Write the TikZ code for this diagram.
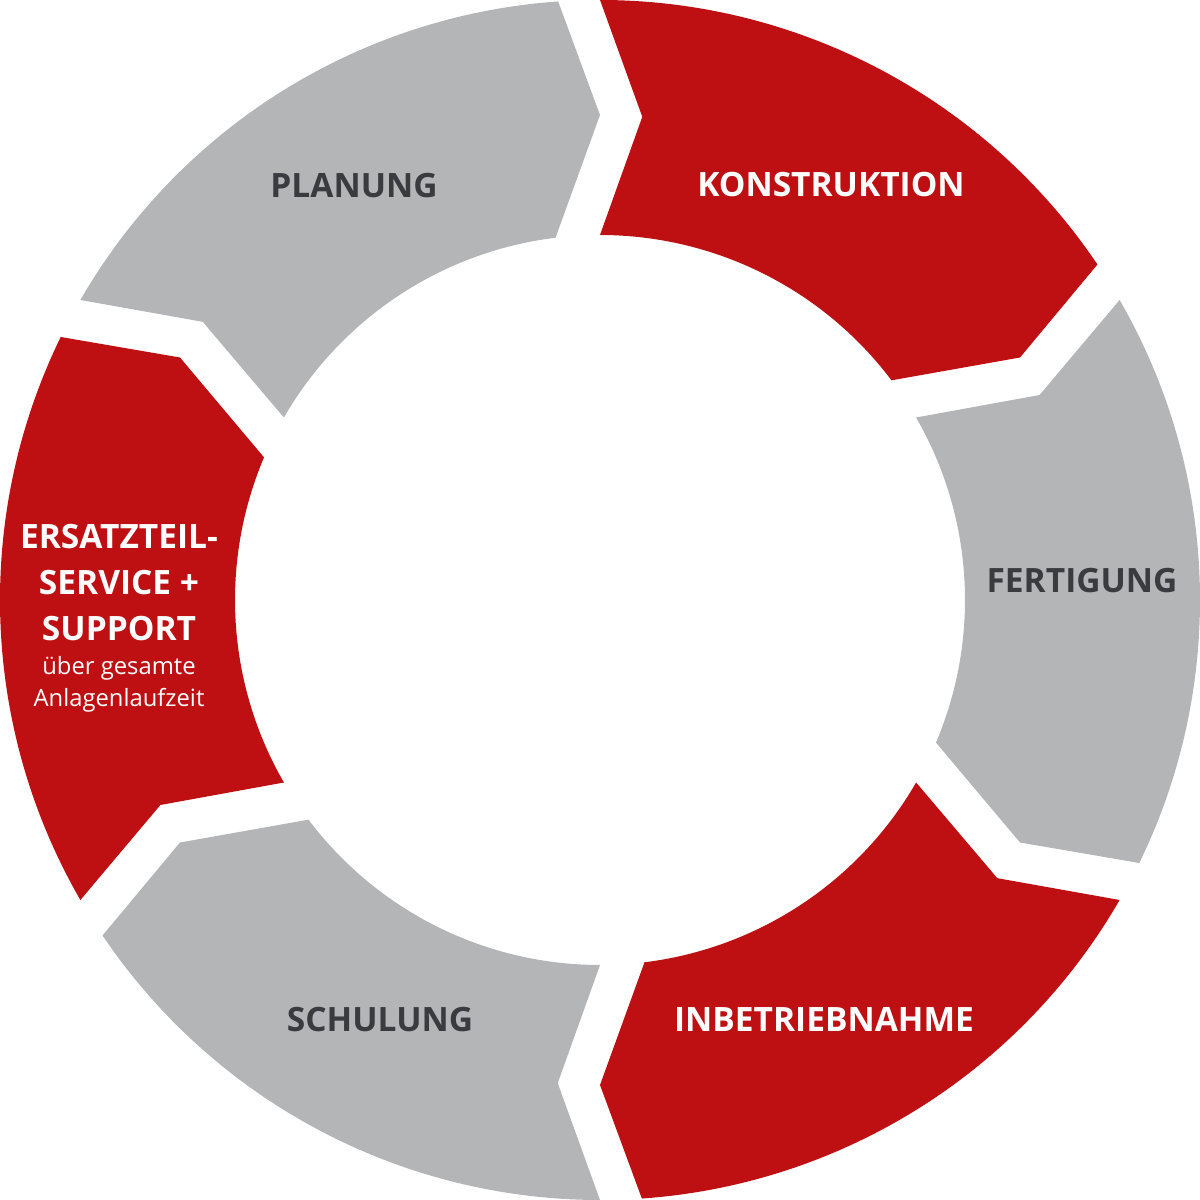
\documentclass[tikz,border=0pt]{standalone}
\usepackage{fontspec}
\setmainfont{Open Sans}
\definecolor{segRed}{RGB}{190,16,18}
\definecolor{segGray}{RGB}{180,181,183}
\definecolor{txtDark}{RGB}{58,59,63}
\begin{document}
\begin{tikzpicture}[x=1pt,y=1pt,
  bigtxt/.style={anchor=base,inner sep=0pt,font=\fontsize{33.5}{36}\selectfont\bfseries},
  smalltxt/.style={anchor=base,inner sep=0pt,font=\fontsize{23.8}{26}\selectfont},
  onRed/.style={text=white},
  onGray/.style={text=txtDark}]
\useasboundingbox (0,0) rectangle (1200,1200);
\begin{scope}[shift={(600,600)}]
\foreach \s/\c in {150/segGray,90/segRed,30/segGray,-30/segRed,-90/segGray,-150/segRed}{
  \fill[\c] (\s:600) arc[start angle=\s, end angle=\s-56, radius=600]
    -- ({\s-60}:485) -- ({\s-53}:365)
    arc[start angle=\s-53, end angle=\s, radius=365]
    -- ({\s-5}:485) -- cycle;
}
\end{scope}
\node[bigtxt,onGray] (planung) at (354,1002) {PLANUNG};
\node[bigtxt,onRed] (konstruktion) at (831,1003) {KONSTRUKTION};
\node[bigtxt,onGray] (fertigung) at (1082,607) {FERTIGUNG};
\node[bigtxt,onRed] (inbetrieb) at (824,168) {INBETRIEBNAHME};
\node[bigtxt,onGray] (schulung) at (380,168) {SCHULUNG};
\node[bigtxt,onRed] (ers1) at (119,651) {ERSATZTEIL-};
\node[bigtxt,onRed] (ers2) at (119,605) {SERVICE +};
\node[bigtxt,onRed] (ers3) at (119,559) {SUPPORT};
\node[smalltxt,onRed] (ers4) at (119,525) {über gesamte};
\node[smalltxt,onRed] (ers5) at (119,493) {Anlagenlaufzeit};
\end{tikzpicture}
\end{document}
